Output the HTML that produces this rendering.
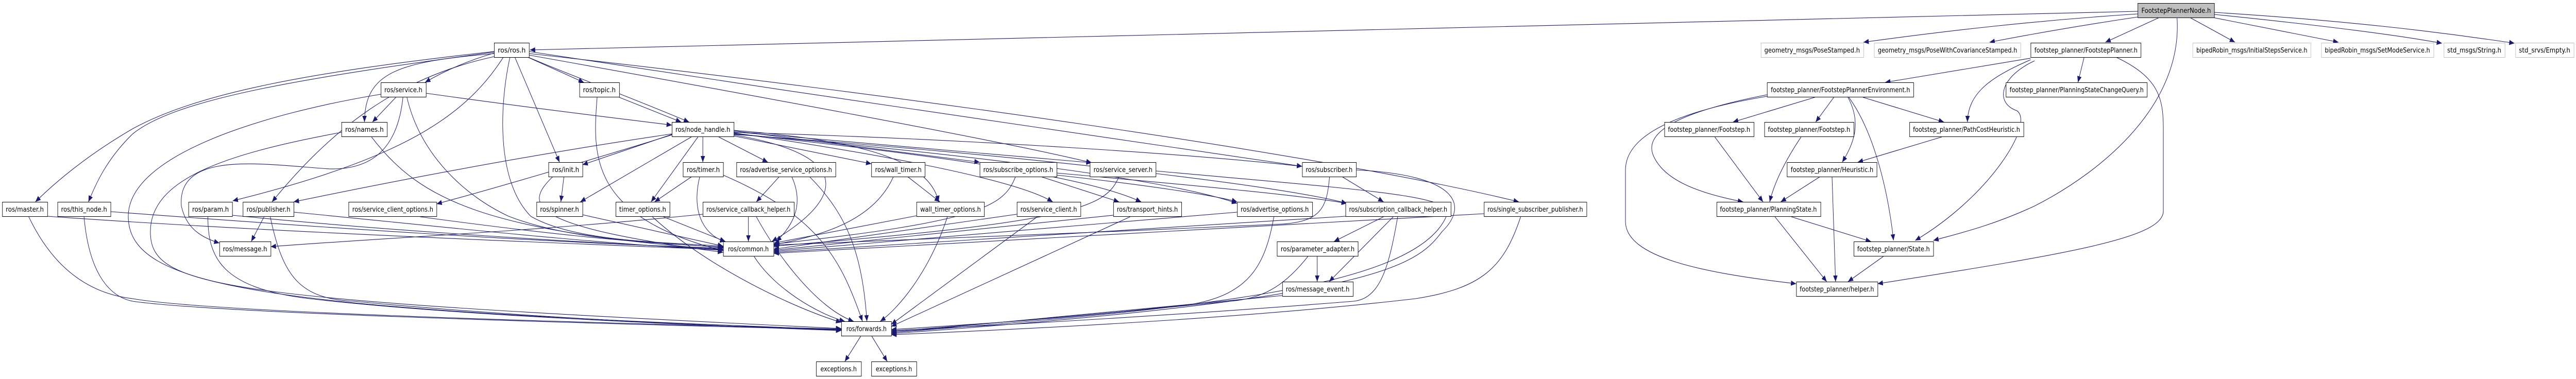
<!DOCTYPE html>
<html><head><meta charset="utf-8"><style>
html,body{margin:0;padding:0;background:#fff;overflow:hidden;width:100%;height:100%;}
svg{display:block;width:100vw;height:100vh;}
text{font-family:"DejaVu Sans","Liberation Sans",sans-serif;font-size:13px;fill:#000;}
.e{fill:none;stroke:#191970;stroke-width:1.1;marker-end:url(#a);}
.b{fill:#fff;stroke:#000;stroke-width:1;}
.g{fill:#fff;stroke:#bfbfbf;stroke-width:1;}
</style></head><body>
<svg viewBox="0 0 5824 736" preserveAspectRatio="none" xmlns="http://www.w3.org/2000/svg">
<defs><marker id="a" markerUnits="userSpaceOnUse" markerWidth="14" markerHeight="10" refX="12" refY="5" orient="auto"><path d="M0,0 L12,5 L0,10 z" fill="#191970"/></marker></defs>
<g>
<path class="e" d="M4833,22 C3500,45 2200,75 1198,97"/>
<path class="e" d="M4833,27 C4600,40 4400,60 4213,82"/>
<path class="e" d="M4833,33 C4700,50 4600,65 4498,82"/>
<path class="e" d="M4882,34 L4760,82"/>
<path class="e" d="M4951,34 L5053,82"/>
<path class="e" d="M5003,34 L5287,82"/>
<path class="e" d="M5006,28 C5200,45 5400,65 5521,84"/>
<path class="e" d="M5006,24 C5300,40 5500,60 5685,84"/>
<path class="e" d="M4922,34 C4935,200 4760,330 4600,400 C4500,440 4420,455 4371,467"/>
<path class="e" d="M4591,113 L4262,160"/>
<path class="e" d="M4591,116 C4500,150 4450,180 4448,237"/>
<path class="e" d="M4600,118 C4520,150 4510,200 4560,215 C4600,240 4500,380 4330,467"/>
<path class="e" d="M4712,111 L4698,160"/>
<path class="e" d="M4784,111 C4880,150 4891,190 4891,250 L4891,410 C4891,460 4700,490 4245,551"/>
<path class="e" d="M4103,189 L3918,237"/>
<path class="e" d="M4146,189 L4105,237"/>
<path class="e" d="M4178,189 C4210,240 4190,280 4165,315"/>
<path class="e" d="M4180,189 C4240,260 4270,380 4281,467"/>
<path class="e" d="M4212,189 L4395,237"/>
<path class="e" d="M3995,184 C3780,220 3720,260 3737,300 C3760,350 3840,375 3941,392"/>
<path class="e" d="M3995,187 C3800,215 3675,260 3675,330 L3675,430 C3675,500 3850,530 4061,551"/>
<path class="e" d="M3877,266 L3986,392"/>
<path class="e" d="M4072,266 C4030,320 4010,360 4001,392"/>
<path class="e" d="M4115,343 L4026,392"/>
<path class="e" d="M4142,343 L4150,547"/>
<path class="e" d="M4390,266 L4200,315"/>
<path class="e" d="M4050,421 L4230,469"/>
<path class="e" d="M4013,421 L4130,547"/>
<path class="e" d="M4258,498 L4178,547"/>
<path class="e" d="M1117,100 C700,140 450,180 300,250 C200,300 130,350 80,392"/>
<path class="e" d="M1117,101 C700,150 400,190 300,260 C240,310 215,360 200,392"/>
<path class="e" d="M1117,103 C1050,120 1000,140 961,160"/>
<path class="e" d="M1117,104 C900,120 825,140 824,237"/>
<path class="e" d="M1138,111 C1050,230 900,310 526,390"/>
<path class="e" d="M1117,110 C900,150 750,250 615,392"/>
<path class="e" d="M1193,111 L1320,160"/>
<path class="e" d="M1194,111 C1300,150 1400,180 1558,237"/>
<path class="e" d="M1164,111 L1265,315"/>
<path class="e" d="M1153,111 C1130,200 1120,350 1200,420 C1300,470 1500,470 1635,478"/>
<path class="e" d="M1196,100 C1800,180 2600,280 2944,323"/>
<path class="e" d="M1196,104 C2000,180 3000,300 3434,392"/>
<path class="e" d="M1196,107 C1800,200 2300,280 2468,316"/>
<path class="e" d="M895,189 L842,237"/>
<path class="e" d="M963,181 C1200,210 1400,230 1519,243"/>
<path class="e" d="M920,189 C950,300 1050,380 1150,420 C1300,470 1500,470 1635,481"/>
<path class="e" d="M861,183 C600,220 290,300 290,420 C290,560 600,600 1902,640"/>
<path class="e" d="M911,189 C900,280 850,330 745,328 C600,320 400,290 410,400 C420,440 450,460 496,472"/>
<path class="e" d="M772,257 C500,300 340,350 340,450 C340,560 500,580 1902,638"/>
<path class="e" d="M840,266 C950,390 1100,450 1635,485"/>
<path class="e" d="M1400,189 L1540,237"/>
<path class="e" d="M1350,189 C1340,300 1330,420 1635,487"/>
<path class="e" d="M1519,261 L1317,320"/>
<path class="e" d="M1563,266 L1312,392"/>
<path class="e" d="M1578,266 L1472,392"/>
<path class="e" d="M1589,266 L1589,315"/>
<path class="e" d="M1625,266 L1736,315"/>
<path class="e" d="M1659,264 L1970,318"/>
<path class="e" d="M1659,253 C1900,270 2100,300 2122,392"/>
<path class="e" d="M1659,254 L2215,315"/>
<path class="e" d="M1659,256 L2468,316"/>
<path class="e" d="M1659,257 C2200,270 2700,300 2944,323"/>
<path class="e" d="M1659,262 C1920,300 1920,380 1745,469"/>
<path class="e" d="M1519,260 C1200,300 900,350 664,392"/>
<path class="e" d="M1519,262 C1300,320 1100,370 987,396"/>
<path class="e" d="M1659,258 C2000,300 2300,350 2380,392"/>
<path class="e" d="M1659,259 C2100,300 2450,340 2580,392"/>
<path class="e" d="M1659,260 C2200,300 2650,350 2797,395"/>
<path class="e" d="M1659,261 C2300,300 2900,360 3045,395"/>
<path class="e" d="M1275,343 L1268,392"/>
<path class="e" d="M1250,343 C1180,400 1200,440 1635,490"/>
<path class="e" d="M1564,343 L1480,392"/>
<path class="e" d="M1582,343 C1560,420 1600,460 1640,469"/>
<path class="e" d="M1635,340 C1850,420 1900,500 1950,624"/>
<path class="e" d="M1762,343 L1710,392"/>
<path class="e" d="M1790,343 C1820,400 1790,440 1755,469"/>
<path class="e" d="M1830,343 C1920,420 1950,500 1960,624"/>
<path class="e" d="M2052,343 L2125,392"/>
<path class="e" d="M2020,343 C1980,420 1880,455 1750,475"/>
<path class="e" d="M2296,343 C2270,400 2220,430 1749,474"/>
<path class="e" d="M2353,343 L2530,392"/>
<path class="e" d="M2389,336 C2700,360 2950,380 3045,395"/>
<path class="e" d="M2389,340 C2600,360 2750,380 2797,392"/>
<path class="e" d="M2530,343 C2500,400 2450,430 1749,478"/>
<path class="e" d="M2613,332 C3100,370 3300,380 3270,420 C3200,560 2700,600 2015,646"/>
<path class="e" d="M3034,343 L3128,392"/>
<path class="e" d="M3006,343 C3000,400 2990,430 2900,435 C2500,450 2000,470 1749,476"/>
<path class="e" d="M3066,330 C3300,340 3320,400 3260,450 C3200,520 3100,580 2015,648"/>
<path class="e" d="M1317,417 L1635,478"/>
<path class="e" d="M1500,421 L1640,469"/>
<path class="e" d="M1475,421 C1600,520 1800,600 1902,626"/>
<path class="e" d="M1692,421 L1692,469"/>
<path class="e" d="M1710,421 C1760,500 1850,600 1930,624"/>
<path class="e" d="M1589,416 C1200,450 900,460 612,479"/>
<path class="e" d="M2072,419 L1750,472"/>
<path class="e" d="M2142,421 C2100,530 2030,600 1990,624"/>
<path class="e" d="M107,420 C600,450 1200,470 1635,485"/>
<path class="e" d="M65,421 C120,520 200,570 300,580 C500,610 1500,630 1902,639"/>
<path class="e" d="M250,411 C700,440 1200,470 1635,482"/>
<path class="e" d="M190,421 C200,520 240,575 300,585 C500,610 1500,632 1902,640"/>
<path class="e" d="M525,418 C900,450 1300,470 1635,484"/>
<path class="e" d="M470,421 C470,500 500,560 700,580 C1000,610 1500,630 1902,641"/>
<path class="e" d="M597,421 L568,469"/>
<path class="e" d="M664,412 C1000,440 1300,470 1635,486"/>
<path class="e" d="M611,421 C640,540 680,580 800,585 C1100,610 1500,630 1902,642"/>
<path class="e" d="M950,421 C1200,450 1400,470 1640,480"/>
<path class="e" d="M2299,416 L1749,484"/>
<path class="e" d="M2345,421 L2015,630"/>
<path class="e" d="M2517,418 L1749,486"/>
<path class="e" d="M2555,421 L2015,634"/>
<path class="e" d="M2797,412 L1749,488"/>
<path class="e" d="M2880,421 C2860,520 2820,570 2700,590 C2400,620 2200,630 2015,640"/>
<path class="e" d="M3128,421 L3016,469"/>
<path class="e" d="M3150,421 L3005,547"/>
<path class="e" d="M3160,421 C3140,520 3120,580 3060,585 C2700,610 2300,630 2015,642"/>
<path class="e" d="M3042,420 L1749,490"/>
<path class="e" d="M2978,498 L2978,547"/>
<path class="e" d="M2957,498 C2900,560 2850,580 2780,585 C2500,610 2200,630 2015,644"/>
<path class="e" d="M2899,574 L2015,646"/>
<path class="e" d="M3355,415 L1749,492"/>
<path class="e" d="M3438,421 C3400,520 3350,560 3200,580 C2800,620 2300,640 2015,650"/>
<path class="e" d="M1705,498 C1750,560 1850,610 1910,624"/>
<path class="e" d="M1946,653 L1910,702"/>
<path class="e" d="M1971,653 L2006,702"/>
</g>
<g>
<rect x="4833.5" y="6.5" width="173" height="28" fill="#bfbfbf" stroke="#000"/><text x="4920" y="25" text-anchor="middle" textLength="157" lengthAdjust="spacingAndGlyphs">FootstepPlannerNode.h</text>
<rect class="b" x="1117.5" y="83.5" width="79" height="28"/><text x="1157" y="102" text-anchor="middle" textLength="63" lengthAdjust="spacingAndGlyphs">ros/ros.h</text>
<rect class="g" x="3981.5" y="83.5" width="232" height="28"/><text x="4097" y="102" text-anchor="middle" textLength="216" lengthAdjust="spacingAndGlyphs">geometry_msgs/PoseStamped.h</text>
<rect class="g" x="4237.5" y="83.5" width="331" height="28"/><text x="4403" y="102" text-anchor="middle" textLength="315" lengthAdjust="spacingAndGlyphs">geometry_msgs/PoseWithCovarianceStamped.h</text>
<rect class="b" x="4591.5" y="83.5" width="249" height="28"/><text x="4716" y="102" text-anchor="middle" textLength="233" lengthAdjust="spacingAndGlyphs">footstep_planner/FootstepPlanner.h</text>
<rect class="g" x="4957.5" y="83.5" width="267" height="28"/><text x="5091" y="102" text-anchor="middle" textLength="251" lengthAdjust="spacingAndGlyphs">bipedRobin_msgs/InitialStepsService.h</text>
<rect class="g" x="5248.5" y="83.5" width="254" height="28"/><text x="5375" y="102" text-anchor="middle" textLength="238" lengthAdjust="spacingAndGlyphs">bipedRobin_msgs/SetModeService.h</text>
<rect class="g" x="5525.5" y="83.5" width="138" height="28"/><text x="5594" y="102" text-anchor="middle" textLength="122" lengthAdjust="spacingAndGlyphs">std_msgs/String.h</text>
<rect class="g" x="5687.5" y="83.5" width="132" height="28"/><text x="5753" y="102" text-anchor="middle" textLength="116" lengthAdjust="spacingAndGlyphs">std_srvs/Empty.h</text>
<rect class="b" x="861.5" y="160.5" width="102" height="28"/><text x="912" y="179" text-anchor="middle" textLength="86" lengthAdjust="spacingAndGlyphs">ros/service.h</text>
<rect class="b" x="1310.5" y="160.5" width="90" height="28"/><text x="1355" y="179" text-anchor="middle" textLength="74" lengthAdjust="spacingAndGlyphs">ros/topic.h</text>
<rect class="b" x="3995.5" y="160.5" width="331" height="28"/><text x="4161" y="179" text-anchor="middle" textLength="315" lengthAdjust="spacingAndGlyphs">footstep_planner/FootstepPlannerEnvironment.h</text>
<rect class="b" x="4535.5" y="160.5" width="319" height="28"/><text x="4695" y="179" text-anchor="middle" textLength="303" lengthAdjust="spacingAndGlyphs">footstep_planner/PlanningStateChangeQuery.h</text>
<rect class="b" x="772.5" y="237.5" width="103" height="28"/><text x="824" y="256" text-anchor="middle" textLength="87" lengthAdjust="spacingAndGlyphs">ros/names.h</text>
<rect class="b" x="1519.5" y="237.5" width="140" height="28"/><text x="1589" y="256" text-anchor="middle" textLength="124" lengthAdjust="spacingAndGlyphs">ros/node_handle.h</text>
<rect class="b" x="3763.5" y="237.5" width="202" height="28"/><text x="3864" y="256" text-anchor="middle" textLength="186" lengthAdjust="spacingAndGlyphs">footstep_planner/Footstep.h</text>
<rect class="b" x="3989.5" y="237.5" width="202" height="28"/><text x="4090" y="256" text-anchor="middle" textLength="186" lengthAdjust="spacingAndGlyphs">footstep_planner/Footstep.h</text>
<rect class="b" x="4317.5" y="237.5" width="258" height="28"/><text x="4446" y="256" text-anchor="middle" textLength="242" lengthAdjust="spacingAndGlyphs">footstep_planner/PathCostHeuristic.h</text>
<rect class="b" x="1240.5" y="315.5" width="77" height="28"/><text x="1279" y="334" text-anchor="middle" textLength="61" lengthAdjust="spacingAndGlyphs">ros/init.h</text>
<rect class="b" x="1544.5" y="315.5" width="91" height="28"/><text x="1590" y="334" text-anchor="middle" textLength="75" lengthAdjust="spacingAndGlyphs">ros/timer.h</text>
<rect class="b" x="1665.5" y="315.5" width="224" height="28"/><text x="1777" y="334" text-anchor="middle" textLength="208" lengthAdjust="spacingAndGlyphs">ros/advertise_service_options.h</text>
<rect class="b" x="1970.5" y="315.5" width="121" height="28"/><text x="2031" y="334" text-anchor="middle" textLength="105" lengthAdjust="spacingAndGlyphs">ros/wall_timer.h</text>
<rect class="b" x="2215.5" y="315.5" width="174" height="28"/><text x="2302" y="334" text-anchor="middle" textLength="158" lengthAdjust="spacingAndGlyphs">ros/subscribe_options.h</text>
<rect class="b" x="2464.5" y="315.5" width="149" height="28"/><text x="2539" y="334" text-anchor="middle" textLength="133" lengthAdjust="spacingAndGlyphs">ros/service_server.h</text>
<rect class="b" x="2944.5" y="315.5" width="122" height="28"/><text x="3005" y="334" text-anchor="middle" textLength="106" lengthAdjust="spacingAndGlyphs">ros/subscriber.h</text>
<rect class="b" x="4040.5" y="315.5" width="203" height="28"/><text x="4142" y="334" text-anchor="middle" textLength="187" lengthAdjust="spacingAndGlyphs">footstep_planner/Heuristic.h</text>
<rect class="b" x="5.5" y="392.5" width="102" height="28"/><text x="56" y="411" text-anchor="middle" textLength="86" lengthAdjust="spacingAndGlyphs">ros/master.h</text>
<rect class="b" x="130.5" y="392.5" width="120" height="28"/><text x="190" y="411" text-anchor="middle" textLength="104" lengthAdjust="spacingAndGlyphs">ros/this_node.h</text>
<rect class="b" x="426.5" y="392.5" width="99" height="28"/><text x="476" y="411" text-anchor="middle" textLength="83" lengthAdjust="spacingAndGlyphs">ros/param.h</text>
<rect class="b" x="549.5" y="392.5" width="115" height="28"/><text x="607" y="411" text-anchor="middle" textLength="99" lengthAdjust="spacingAndGlyphs">ros/publisher.h</text>
<rect class="b" x="788.5" y="392.5" width="199" height="28"/><text x="888" y="411" text-anchor="middle" textLength="183" lengthAdjust="spacingAndGlyphs">ros/service_client_options.h</text>
<rect class="b" x="1213.5" y="392.5" width="104" height="28"/><text x="1265" y="411" text-anchor="middle" textLength="88" lengthAdjust="spacingAndGlyphs">ros/spinner.h</text>
<rect class="b" x="1392.5" y="392.5" width="122" height="28"/><text x="1453" y="411" text-anchor="middle" textLength="106" lengthAdjust="spacingAndGlyphs">timer_options.h</text>
<rect class="b" x="1589.5" y="392.5" width="206" height="28"/><text x="1692" y="411" text-anchor="middle" textLength="190" lengthAdjust="spacingAndGlyphs">ros/service_callback_helper.h</text>
<rect class="b" x="2072.5" y="392.5" width="153" height="28"/><text x="2149" y="411" text-anchor="middle" textLength="137" lengthAdjust="spacingAndGlyphs">wall_timer_options.h</text>
<rect class="b" x="2299.5" y="392.5" width="144" height="28"/><text x="2371" y="411" text-anchor="middle" textLength="128" lengthAdjust="spacingAndGlyphs">ros/service_client.h</text>
<rect class="b" x="2517.5" y="392.5" width="154" height="28"/><text x="2594" y="411" text-anchor="middle" textLength="138" lengthAdjust="spacingAndGlyphs">ros/transport_hints.h</text>
<rect class="b" x="2797.5" y="392.5" width="170" height="28"/><text x="2882" y="411" text-anchor="middle" textLength="154" lengthAdjust="spacingAndGlyphs">ros/advertise_options.h</text>
<rect class="b" x="3042.5" y="392.5" width="238" height="28"/><text x="3161" y="411" text-anchor="middle" textLength="222" lengthAdjust="spacingAndGlyphs">ros/subscription_callback_helper.h</text>
<rect class="b" x="3355.5" y="392.5" width="232" height="28"/><text x="3471" y="411" text-anchor="middle" textLength="216" lengthAdjust="spacingAndGlyphs">ros/single_subscriber_publisher.h</text>
<rect class="b" x="3881.5" y="392.5" width="235" height="28"/><text x="3998" y="411" text-anchor="middle" textLength="219" lengthAdjust="spacingAndGlyphs">footstep_planner/PlanningState.h</text>
<rect class="b" x="496.5" y="469.5" width="116" height="28"/><text x="554" y="488" text-anchor="middle" textLength="100" lengthAdjust="spacingAndGlyphs">ros/message.h</text>
<rect class="b" x="1635.5" y="469.5" width="114" height="28"/><text x="1692" y="488" text-anchor="middle" textLength="92" lengthAdjust="spacingAndGlyphs">ros/common.h</text>
<rect class="b" x="2887.5" y="469.5" width="183" height="28"/><text x="2979" y="488" text-anchor="middle" textLength="167" lengthAdjust="spacingAndGlyphs">ros/parameter_adapter.h</text>
<rect class="b" x="4191.5" y="469.5" width="180" height="28"/><text x="4281" y="488" text-anchor="middle" textLength="164" lengthAdjust="spacingAndGlyphs">footstep_planner/State.h</text>
<rect class="b" x="2899.5" y="547.5" width="160" height="28"/><text x="2979" y="566" text-anchor="middle" textLength="144" lengthAdjust="spacingAndGlyphs">ros/message_event.h</text>
<rect class="b" x="4061.5" y="547.5" width="184" height="28"/><text x="4153" y="566" text-anchor="middle" textLength="168" lengthAdjust="spacingAndGlyphs">footstep_planner/helper.h</text>
<rect class="b" x="1902.5" y="624.5" width="113" height="28"/><text x="1959" y="643" text-anchor="middle" textLength="91" lengthAdjust="spacingAndGlyphs">ros/forwards.h</text>
<rect class="b" x="1845.5" y="702.5" width="102" height="28"/><text x="1896" y="721" text-anchor="middle" textLength="82" lengthAdjust="spacingAndGlyphs">exceptions.h</text>
<rect class="b" x="1970.5" y="702.5" width="102" height="28"/><text x="2021" y="721" text-anchor="middle" textLength="82" lengthAdjust="spacingAndGlyphs">exceptions.h</text>
</g>
</svg>
</body></html>
